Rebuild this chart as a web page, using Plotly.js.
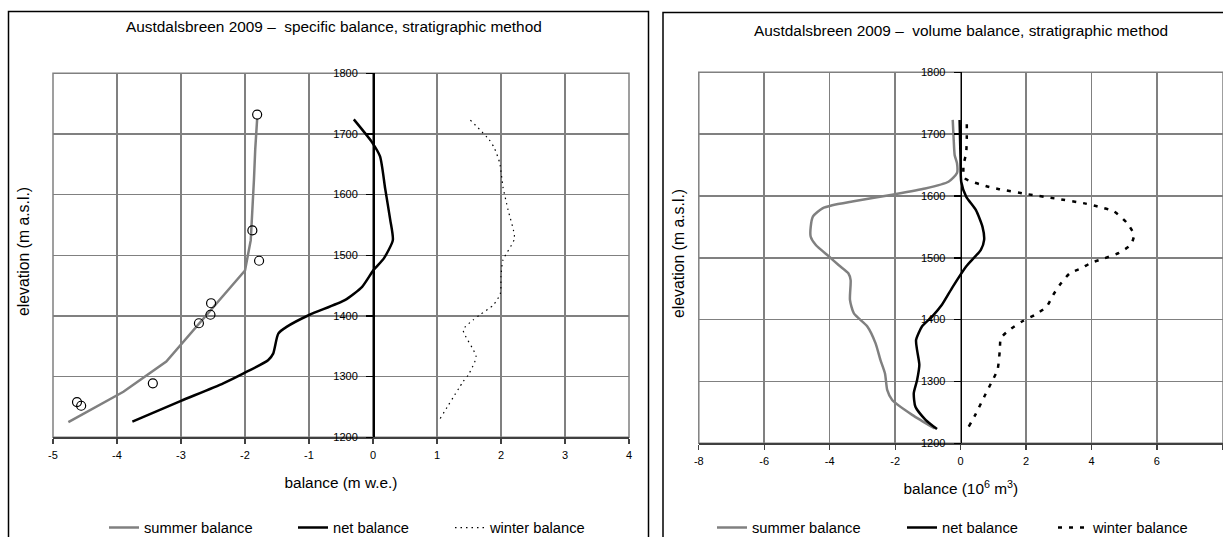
<!DOCTYPE html>
<html>
<head>
<meta charset="utf-8">
<script src="https://cdn.plot.ly/plotly-3.0.1.min.js"></script>
<style>html,body{margin:0;padding:0;background:#fff;overflow:hidden;}#chart{width:1223px;height:550px;}</style>
</head>
<body>
<div id="chart"></div>
<script>
// ---------- Left chart: specific balance (m w.e.) ----------
var summerSpecBal  = [-4.76, -3.90, -3.23, -2.82, -2.42, -2.00, -1.91, -1.88, -1.86, -1.84, -1.81];
var summerSpecElev = [1225, 1275, 1325, 1375, 1425, 1475, 1525, 1575, 1625, 1675, 1725];

var obsSummerBal  = [-1.81, -1.885, -1.78, -2.53, -2.54, -2.72, -3.44, -4.625, -4.56];
var obsSummerElev = [1732, 1541, 1491, 1421, 1402, 1388, 1289, 1258, 1252];

var netSpecBal  = [-3.76, -3.00, -2.34, -2.03, -1.64, -1.56, -1.48, -1.35, -0.99, -0.44, -0.17, 0.01, 0.17, 0.31, 0.27, 0.19, 0.11, -0.02, -0.30];
var netSpecElev = [1226, 1260, 1289, 1305, 1327, 1338, 1371, 1382, 1402, 1426, 1448, 1476, 1495, 1525, 1558, 1610, 1663, 1687, 1724];

var winterSpecBal  = [1.05, 1.41, 1.49, 1.61, 1.41, 1.56, 1.67, 1.88, 1.99, 2.00, 2.03, 2.21, 2.11, 2.03, 1.98, 1.90, 1.82, 1.51];
var winterSpecElev = [1231, 1292, 1303, 1333, 1377, 1393, 1402, 1418, 1437, 1465, 1492, 1528, 1575, 1613, 1652, 1676, 1690, 1724];

// ---------- Right chart: volume balance (10^6 m^3) ----------
var summerVolBal  = [-0.79, -1.48, -2.09, -2.24, -2.31, -2.45, -2.60, -2.85, -3.26, -3.38, -3.36, -3.43, -3.72, -4.02, -4.43, -4.58, -4.58, -4.51, -4.22, -3.92, -3.31, -2.09, -1.08, -0.37, -0.11, -0.11, -0.18, -0.21, -0.24];
var summerVolElev = [1224, 1246, 1270, 1286, 1313, 1335, 1362, 1389, 1410, 1432, 1464, 1475, 1488, 1502, 1521, 1534, 1550, 1567, 1580, 1585, 1591, 1602, 1612, 1623, 1637, 1653, 1666, 1691, 1723];

var netVolBal  = [-0.72, -1.07, -1.38, -1.43, -1.33, -1.26, -1.33, -1.36, -1.18, -0.87, -0.57, -0.24, 0.17, 0.62, 0.72, 0.67, 0.47, 0.17, 0.02, 0.00, -0.03];
var netVolElev = [1223, 1238, 1259, 1281, 1302, 1327, 1351, 1367, 1389, 1405, 1424, 1453, 1486, 1513, 1529, 1550, 1577, 1599, 1623, 1658, 1723];

var winterVolBal  = [0.25, 0.47, 0.72, 0.93, 1.13, 1.20, 1.23, 1.48, 1.88, 2.28, 2.63, 2.83, 3.03, 3.34, 3.69, 3.99, 4.39, 4.84, 5.20, 5.30, 5.09, 4.69, 4.19, 3.79, 2.88, 2.03, 1.18, 0.77, 0.12, 0.09, 0.17, 0.19, 0.19];
var winterVolElev = [1227, 1248, 1275, 1297, 1319, 1351, 1370, 1383, 1397, 1408, 1421, 1440, 1456, 1475, 1483, 1492, 1499, 1508, 1521, 1537, 1556, 1575, 1583, 1588, 1596, 1603, 1611, 1616, 1629, 1650, 1669, 1696, 1720];

var elevTicks = [1200, 1300, 1400, 1500, 1600, 1700, 1800];
var specTicks = [-5, -4, -3, -2, -1, 0, 1, 2, 3, 4];
var volTicks  = [-8, -6, -4, -2, 0, 2, 4, 6, 8];

var FONT = 'Liberation Sans, Arial, sans-serif';
var GRID = '#808080';
var W = 1223, H = 550;   // figure slightly taller than the 537 px view; bottom strip falls outside

var traces = [
  {x: summerSpecBal, y: summerSpecElev, xaxis: 'x', yaxis: 'y', mode: 'lines', name: 'summer balance',
   line: {color: '#808080', width: 2.5}, legend: 'legend'},
  {x: netSpecBal, y: netSpecElev, xaxis: 'x', yaxis: 'y', mode: 'lines', name: 'net balance',
   line: {color: '#000000', width: 2.5, shape: 'spline', smoothing: 0.6}, legend: 'legend2'},
  {x: winterSpecBal, y: winterSpecElev, xaxis: 'x', yaxis: 'y', mode: 'lines', name: 'winter balance',
   line: {color: '#000000', width: 1.2, dash: '1.5px,4px', shape: 'spline', smoothing: 0.6}, legend: 'legend3'},
  {x: obsSummerBal, y: obsSummerElev, xaxis: 'x', yaxis: 'y', mode: 'markers', name: 'summer obs', showlegend: false,
   marker: {symbol: 'circle-open', size: 9, color: '#000000', line: {width: 1.2}}},

  {x: summerVolBal, y: summerVolElev, xaxis: 'x2', yaxis: 'y2', mode: 'lines', name: 'summer balance',
   line: {color: '#808080', width: 2.5, shape: 'spline', smoothing: 0.6}, legend: 'legend4'},
  {x: netVolBal, y: netVolElev, xaxis: 'x2', yaxis: 'y2', mode: 'lines', name: 'net balance',
   line: {color: '#000000', width: 2.5, shape: 'spline', smoothing: 0.6}, legend: 'legend5'},
  {x: winterVolBal, y: winterVolElev, xaxis: 'x2', yaxis: 'y2', mode: 'lines', name: 'winter balance',
   line: {color: '#000000', width: 2.5, dash: '4px,7px', shape: 'spline', smoothing: 0.6}, legend: 'legend6'}
];

function xAx(domain, range, ticks, anchor, title) {
  return {
    domain: domain, range: range, anchor: anchor, tickmode: 'array', tickvals: ticks,
    ticktext: ticks.map(String), showgrid: true, gridcolor: GRID, gridwidth: 1.5,
    zeroline: false, showline: true, linecolor: '#404040', linewidth: 1.5,
    ticks: 'outside', ticklen: 5, tickcolor: '#404040', tickwidth: 1.2,
    ticklabelstandoff: 2,
    tickfont: {family: FONT, size: 11, color: '#000'},
    title: {text: title, font: {family: FONT, size: 15.4, color: '#000'}, standoff: 17},
    automargin: false, fixedrange: true
  };
}
function yAx(domain, pos) {
  return {
    domain: domain, range: [1200, 1800], anchor: 'free', position: pos, side: 'left',
    tickmode: 'array', tickvals: elevTicks, ticktext: elevTicks.map(String),
    showgrid: true, gridcolor: GRID, gridwidth: 1.5, zeroline: false,
    showline: true, linecolor: '#000', linewidth: 1.5,
    ticks: 'outside', ticklen: 7, tickcolor: '#000', tickwidth: 1.5,
    ticklabelshift: -3.5, ticklabelstandoff: 6,
    tickfont: {family: FONT, size: 11, color: '#000'},
    automargin: false, fixedrange: true
  };
}
function leg(px) {
  return {orientation: 'h', x: px / W, xanchor: 'left', y: 1 - 528 / H, yanchor: 'middle',
          font: {family: FONT, size: 14.7, color: '#000'}, bgcolor: 'rgba(0,0,0,0)', borderwidth: 0};
}
function py(p) { return 1 - p / H; }

var layout = {
  width: W, height: H,
  margin: {l: 0, r: 0, t: 0, b: 0},
  paper_bgcolor: '#fff', plot_bgcolor: '#fff',
  font: {family: FONT, color: '#000'},
  showlegend: true,
  xaxis: xAx([53 / W, 629 / W], [-5, 4], specTicks, 'y', 'balance (m w.e.)'),
  yaxis: yAx([py(437.3), py(73.3)], 373 / W),
  xaxis2: xAx([698.8 / W, 1.0], [-8, 8.02], volTicks, 'y2', 'balance (10<sup>6</sup> m<sup>3</sup>)'),
  yaxis2: yAx([py(443.3), py(72.3)], 960.6 / W),
  legend: leg(104), legend2: leg(293), legend3: leg(450),
  legend4: leg(712), legend5: leg(902), legend6: leg(1053),
  annotations: [
    {text: 'Austdalsbreen 2009 –  specific balance, stratigraphic method', xref: 'paper', yref: 'paper',
     x: 334 / W, y: py(27), xanchor: 'center', yanchor: 'middle', showarrow: false,
     font: {family: FONT, size: 15.4, color: '#000'}},
    {text: 'Austdalsbreen 2009 –  volume balance, stratigraphic method', xref: 'paper', yref: 'paper',
     x: 961 / W, y: py(30), xanchor: 'center', yanchor: 'middle', showarrow: false,
     font: {family: FONT, size: 15.4, color: '#000'}},
    {text: 'elevation (m a.s.l.)', xref: 'paper', yref: 'paper', x: 23 / W, y: py(252),
     xanchor: 'center', yanchor: 'middle', textangle: -90, showarrow: false,
     font: {family: FONT, size: 15.8, color: '#000'}},
    {text: 'elevation (m a.s.l.)', xref: 'paper', yref: 'paper', x: 678 / W, y: py(254),
     xanchor: 'center', yanchor: 'middle', textangle: -90, showarrow: false,
     font: {family: FONT, size: 15.8, color: '#000'}}
  ],
  shapes: [
    {type: 'rect', xref: 'paper', yref: 'paper', x0: 8.5 / W, x1: 648.5 / W, y0: -0.05, y1: py(11.5),
     line: {color: '#000', width: 1.5}, fillcolor: 'rgba(0,0,0,0)', layer: 'below'},
    {type: 'rect', xref: 'paper', yref: 'paper', x0: 663 / W, x1: 1.05, y0: -0.05, y1: py(12.5),
     line: {color: '#000', width: 1.5}, fillcolor: 'rgba(0,0,0,0)', layer: 'below'},
    {type: 'rect', xref: 'x domain', yref: 'y domain', x0: 0, x1: 1, y0: 0, y1: 1,
     line: {color: GRID, width: 1.5}, fillcolor: 'rgba(0,0,0,0)', layer: 'below'},
    {type: 'rect', xref: 'x2 domain', yref: 'y2 domain', x0: 0, x1: 1, y0: 0, y1: 1,
     line: {color: GRID, width: 1.5}, fillcolor: 'rgba(0,0,0,0)', layer: 'below'}
  ]
};

Plotly.newPlot('chart', traces, layout, {displayModeBar: false, staticPlot: true});
</script>
</body>
</html>
